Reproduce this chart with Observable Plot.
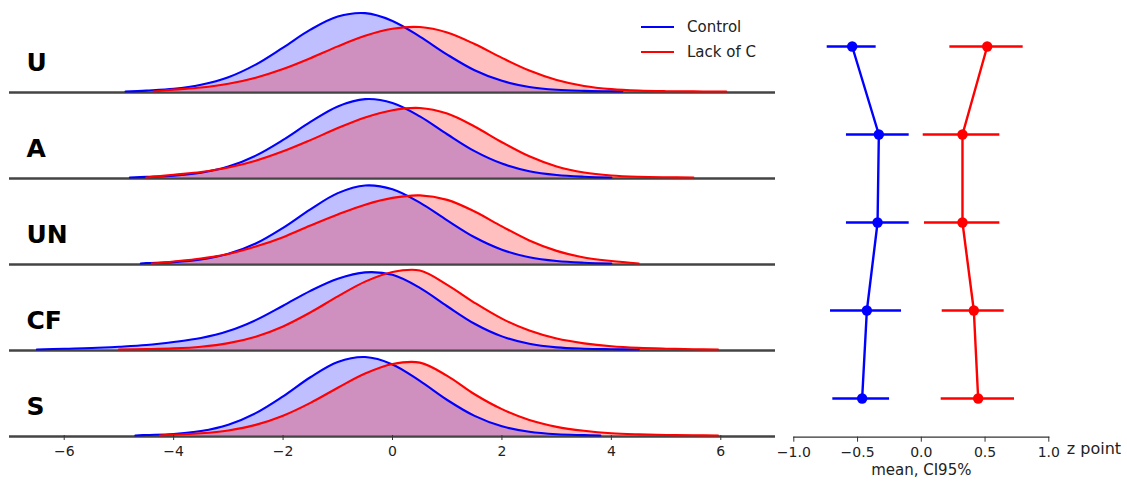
<!DOCTYPE html>
<html>
<head>
<meta charset="utf-8">
<script src="https://cdn.jsdelivr.net/npm/d3@7"></script>
<script src="https://cdn.jsdelivr.net/npm/@observablehq/plot@0.6"></script>
<style>
html,body{margin:0;padding:0;background:#fff;}
#wrap{position:relative;width:1127px;height:487px;overflow:hidden;font-family:"DejaVu Sans",sans-serif;}
#left{position:absolute;left:0;top:0;width:790px;}
#right{position:absolute;left:775px;top:0;width:352px;}
#legend{position:absolute;left:641px;top:14.5px;font-size:15px;color:#222;}
.item{display:flex;align-items:center;height:25px;}
.swatch{width:33px;height:0;border-top:2px solid;margin-right:13px;}
</style>
</head>
<body>
<div id="wrap"><div id="left"></div><div id="right"></div><div id="legend"></div></div>
<script>
// ---- categories ----
const conditions = ["U", "A", "UN", "CF", "S"];
const groups = ["Control", "Lack of C"];
const groupColors = ["#0000ff", "#ff0000"];

// ---- density curves (z-score grid, heights) ----
const zGrid = [-6.5,-6,-5.5,-5,-4.5,-4,-3.5,-3,-2.5,-2,-1.5,-1,-0.5,0,0.5,1,1.5,2,2.5,3,3.5,4,4.5,5,5.5,6,6.5];
const densU_control  = [null,null,null,null,0.9,2.6,6.8,14.4,27.1,44.2,62.2,75.4,78.8,71.0,55.2,37.1,21.4,10.7,4.6,1.7,0.6,0.2,null,null,null,null,null];
const densU_lack     = [null,null,null,null,null,1.9,4.0,7.8,13.9,22.6,33.5,45.4,56.0,63.1,64.8,59.3,47.7,33.8,21.1,11.6,5.6,2.4,0.9,0.3,0.1,0.05,null];
const densA_control  = [null,null,null,null,0.6,1.8,4.8,11.0,22.0,37.8,55.9,71.5,78.8,75.0,61.5,43.5,26.5,14.0,6.3,2.5,0.8,null,null,null,null,null,null];
const densA_lack     = [null,null,null,null,null,2.8,5.5,10.0,16.9,26.3,37.6,49.7,60.4,67.7,69.9,64.3,51.3,35.5,21.3,11.1,5.0,2.0,0.7,0.2,null,null,null];
const densUN_control = [null,null,null,null,0.5,1.4,4.0,9.7,20.1,35.9,54.5,70.8,78.5,74.7,61.2,43.4,26.4,13.9,6.3,2.5,0.8,null,null,null,null,null,null];
const densUN_lack    = [null,null,null,null,null,2.0,5.0,9.6,17.0,26.5,38.2,49.3,59.2,66.0,68.5,64.0,52.3,37.3,23.2,12.7,6.0,2.5,null,null,null,null,null];
const densCF_control = [null,0.8,1.5,2.8,4.5,7.5,11.5,18.5,29.5,44.0,59.0,71.2,77.6,75.1,62.0,43.5,25.9,13.2,5.7,2.1,0.8,0.3,null,null,null,null,null];
const densCF_lack    = [null,null,null,null,0.4,1.1,2.8,6.4,12.9,23.2,37.3,53.4,68.3,78.0,79.5,65.0,47.0,31.0,19.0,11.0,6.2,3.2,1.6,0.8,0.3,null,null];
const densS_control  = [null,null,null,null,0.5,1.5,4.5,10.9,22.5,39.4,58.6,73.9,78.9,71.5,54.9,35.7,19.7,9.2,3.7,1.2,0.4,null,null,null,null,null,null];
const densS_lack     = [null,null,null,null,null,0.9,2.2,5.1,10.7,19.9,32.8,48.0,62.3,71.9,73.3,60.0,41.5,26.5,15.6,8.7,4.7,2.2,1.1,0.5,0.2,null,null];
// support [start, end] of each curve, per condition
const supportControl = [[-4.88, 4.2], [-4.8, 4.0], [-4.6, 4.0], [-6.5, 4.5], [-4.7, 3.8]];
const supportLack    = [[-4.37, 6.1], [-4.5, 5.5], [-4.4, 4.5], [-5.0, 5.95], [-4.25, 5.95]];

// ---- point plot: mean and 95% CI ----
const ctrlMean = [-0.542, -0.333, -0.343, -0.427, -0.464];
const ctrlLo   = [-0.738, -0.587, -0.587, -0.712, -0.694];
const ctrlHi   = [-0.354, -0.095, -0.095, -0.155, -0.249];
const lackMean = [0.517, 0.323, 0.323, 0.412, 0.446];
const lackLo   = [0.224, 0.015, 0.025, 0.164, 0.156];
const lackHi   = [0.799, 0.616, 0.616, 0.650, 0.731];

const leftTicks = [-6, -4, -2, 0, 2, 4, 6];
const rightTicks = [-1, -0.5, 0, 0.5, 1];

// ---- build tables ----
const densities = {
  U: [densU_control, densU_lack], A: [densA_control, densA_lack], UN: [densUN_control, densUN_lack],
  CF: [densCF_control, densCF_lack], S: [densS_control, densS_lack]
};
const curveRows = [];
conditions.forEach((c, i) => {
  groups.forEach((g, j) => {
    const h = densities[c][j];
    const [lo, hi] = (j === 0 ? supportControl : supportLack)[i];
    curveRows.push({cond: c, group: g, z: lo, h: 0});
    zGrid.forEach((z, k) => { if (h[k] != null && z > lo && z < hi) curveRows.push({cond: c, group: g, z, h: h[k]}); });
    curveRows.push({cond: c, group: g, z: hi, h: 0});
  });
});
const pointRows = [];
conditions.forEach((c, i) => pointRows.push({cond: c, group: groups[0], mean: ctrlMean[i], lo: ctrlLo[i], hi: ctrlHi[i]}));
conditions.forEach((c, i) => pointRows.push({cond: c, group: groups[1], mean: lackMean[i], lo: lackLo[i], hi: lackHi[i]}));

const baseStyle = {fontFamily: "DejaVu Sans, sans-serif", fontSize: "14px", color: "#222", background: "transparent", maxWidth: "none"};

const left = Plot.plot({
  width: 790, height: 487,
  marginLeft: 9, marginRight: 15, marginTop: 3.5, marginBottom: 51,
  style: baseStyle,
  x: {domain: [-7, 7]},
  y: {domain: [0, 86.5], axis: null},
  fy: {domain: conditions, padding: 0, axis: null, label: null},
  color: {domain: groups, range: groupColors},
  marks: [
    Plot.ruleY([0], {stroke: "#444", strokeWidth: 2.6, dy: 1}),
    Plot.areaY(curveRows, {x: "z", y1: 0, y2: "h", fy: "cond", z: "group", fill: "group", fillOpacity: 0.25, curve: "catmull-rom"}),
    Plot.lineY(curveRows, {x: "z", y: "h", fy: "cond", z: "group", stroke: "group", strokeWidth: 2.1, curve: "catmull-rom"}),
    Plot.text(conditions, {fy: d => d, text: d => d, frameAnchor: "bottom-left", textAnchor: "start", lineAnchor: "bottom",
      dx: 17, dy: -21, fontSize: 25, fontWeight: "bold", fill: "black"}),
    Plot.axisX({ticks: leftTicks, tickFormat: d3.format("d"), tickSize: 5, tickPadding: 6, fontSize: 14, label: null, stroke: "#333", fill: "#222"})
  ]
});
document.getElementById("left").appendChild(left);

const right = Plot.plot({
  width: 352, height: 487,
  marginLeft: 18.3, marginRight: 78.7, marginTop: 0, marginBottom: 50.3,
  style: baseStyle,
  x: {domain: [-1, 1]},
  y: {type: "point", domain: conditions, range: [45, 398], padding: 0, axis: null},
  color: {domain: groups, range: groupColors},
  marks: [
    Plot.frame({anchor: "bottom", stroke: "#333", strokeWidth: 1.2}),
    Plot.axisX({ticks: rightTicks, tickFormat: d3.format(".1f"), tickSize: 5, tickPadding: 5, fontSize: 14, label: null, stroke: "#333", fill: "#222"}),
    Plot.ruleY(pointRows, {y: "cond", x1: "lo", x2: "hi", stroke: "group", strokeWidth: 2.4}),
    Plot.line(pointRows, {x: "mean", y: "cond", z: "group", stroke: "group", strokeWidth: 2.4}),
    Plot.dot(pointRows, {x: "mean", y: "cond", fill: "group", r: 5.2}),
    Plot.text(["mean, CI95%"], {text: d => d, frameAnchor: "bottom", dy: 38, fontSize: 15, fill: "#222"}),
    Plot.text(["z point"], {text: d => d, frameAnchor: "bottom-right", textAnchor: "start", dx: 18, dy: 17, fontSize: 16, fill: "#222"})
  ]
});
document.getElementById("right").appendChild(right);

// legend
const legend = document.getElementById("legend");
groups.forEach((g, i) => {
  const item = document.createElement("div");
  item.className = "item";
  const sw = document.createElement("span");
  sw.className = "swatch";
  sw.style.borderTopColor = groupColors[i];
  const t = document.createElement("span");
  t.textContent = g;
  item.appendChild(sw); item.appendChild(t);
  legend.appendChild(item);
});
</script>
</body>
</html>
